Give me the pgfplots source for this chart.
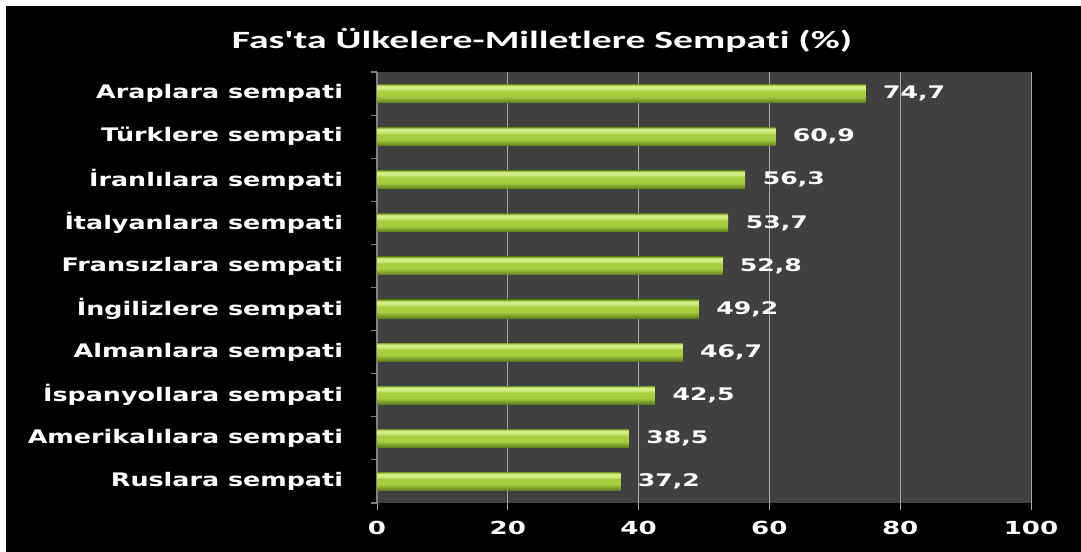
\documentclass[border=0pt]{standalone}
\usepackage{pgfplots}
\pgfplotsset{compat=1.18}
\usepackage{fontspec}
\setmainfont{DejaVu Sans}
\newfontfamily\labfont{DejaVu Sans}[FakeStretch=1.36]
\newfontfamily\numfont{DejaVu Sans}[FakeStretch=1.45]
\newfontfamily\titlefont{Carlito}[FakeStretch=1.6,Ligatures=NoCommon]
\definecolor{plotgray}{HTML}{404040}
\definecolor{gridgray}{HTML}{A8A8A8}
\definecolor{barrim}{HTML}{86A834}
\definecolor{barlight}{HTML}{D4EE86}
\definecolor{barmid}{HTML}{A9CD40}
\definecolor{barbot}{HTML}{5E7E1C}
\pgfdeclareverticalshading{barshade}{100bp}{color(0bp)=(barbot); color(25bp)=(barbot); color(42bp)=(barmid); color(56bp)=(barmid); color(65bp)=(barlight); color(71bp)=(barlight); color(75bp)=(barrim); color(100bp)=(barrim)}
\pgfplotsset{onebar/.style={xbar, bar width=0.42, draw=none,
  shading=barshade,
  nodes near coords={\pgfmathprintnumber[use comma,fixed,fixed zerofill,precision=1]{\pgfplotspointmeta}},
  every node near coord/.append style={font=\numfont\bfseries\fontsize{13}{15}\selectfont, text=white, anchor=west, inner sep=0pt, xshift=13pt}}}
\begin{document}
\begin{tikzpicture}
\useasboundingbox (0pt,0pt) rectangle (810.75pt,414pt);
\fill[white] (0pt,0pt) rectangle (810.75pt,414pt);
\fill[black] (4.5pt,0pt) rectangle (810.75pt,409.5pt);
\node[font=\titlefont\bfseries\fontsize{18.6}{21}\selectfont, text=white] at (406.5pt,384pt) {Fas'ta Ülkelere-Milletlere Sempati (\%)};
\begin{axis}[
  at={(282.75pt,36.75pt)}, anchor=south west,
  scale only axis, width=490.5pt, height=323.25pt,
  xmin=0, xmax=100, ymin=-0.5, ymax=9.5,
  xtick={0,20,40,60,80,100},
  ytick={0,...,9},
  yticklabels={Ruslara sempati, Amerikalılara sempati, İspanyollara sempati, Almanlara sempati, İngilizlere sempati, Fransızlara sempati, İtalyanlara sempati, İranlılara sempati, Türklere sempati, Araplara sempati},
  minor ytick={-0.5,0.5,...,9.5},
  axis background/.style={fill=plotgray},
  axis x line*=bottom, axis y line*=left,
  x axis line style={draw=none},
  y axis line style={draw=gray, line width=0.8pt},
  xmajorgrids, grid style={draw=gridgray, line width=0.7pt},
  tick align=outside,
  major tick length=5pt, minor tick length=4.5pt,
  major y tick style={draw=none},
  minor y tick style={draw=gray, line width=0.8pt},
  major x tick style={draw=gridgray, line width=0.7pt},
  /pgf/number format/assume math mode=true,
  xticklabel style={font=\numfont\bfseries\fontsize{13.5}{15}\selectfont, text=white, yshift=-5pt},
  yticklabel style={font=\labfont\bfseries\fontsize{14}{16}\selectfont, text=white, xshift=-17pt},
]
\addplot[onebar] coordinates {(37.2,0)};
\addplot[onebar] coordinates {(38.5,1)};
\addplot[onebar] coordinates {(42.5,2)};
\addplot[onebar] coordinates {(46.7,3)};
\addplot[onebar] coordinates {(49.2,4)};
\addplot[onebar] coordinates {(52.8,5)};
\addplot[onebar] coordinates {(53.7,6)};
\addplot[onebar] coordinates {(56.3,7)};
\addplot[onebar] coordinates {(60.9,8)};
\addplot[onebar] coordinates {(74.7,9)};
\end{axis}
\end{tikzpicture}
\end{document}
